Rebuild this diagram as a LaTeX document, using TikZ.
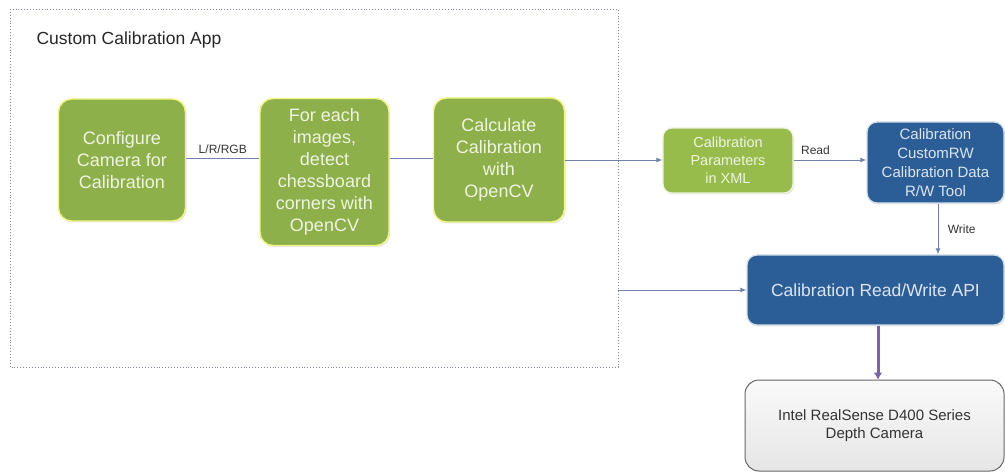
\documentclass[tikz,border=0pt]{standalone}
\usepackage{fontspec}
\setmainfont{Liberation Sans}
\usetikzlibrary{arrows.meta,shadows}
\definecolor{boxgreen}{HTML}{8DB04A}
\definecolor{lightgreen}{HTML}{97BC4C}
\definecolor{boxblue}{HTML}{2B5E97}
\definecolor{greentext}{HTML}{EFF4E2}
\definecolor{bluetext}{HTML}{DCE4F0}
\definecolor{conn}{HTML}{7382AC}
\definecolor{purplearrow}{HTML}{7A64A4}
\definecolor{framecol}{HTML}{7F8596}
\tikzset{
  base/.style={rounded corners=13pt, align=center, inner sep=2pt,
    drop shadow={opacity=0.22, shadow xshift=1pt, shadow yshift=-1.5pt}},
  greenbox/.style={base, fill=boxgreen, draw=white!80!boxgreen!60!yellow, line width=1.4pt,
    text=greentext, font=\fontsize{18}{22}\selectfont},
  paramsbox/.style={base, rounded corners=9pt, fill=lightgreen, draw=white!82!lightgreen, line width=1.2pt,
    text=greentext, font=\fontsize{14.5}{18}\selectfont},
  bluebox/.style={base, rounded corners=10pt, fill=boxblue, draw=white!80!boxblue, line width=1.3pt,
    text=bluetext},
  graybox/.style={rounded corners=14pt, align=center, top color=white!96!gray, bottom color=white!80!gray,
    draw=black!60, line width=1pt, text=black!80, font=\fontsize{15}{18}\selectfont},
  conline/.style={draw=conn, line width=0.9pt},
  conarrow/.style={conline, -{Latex[length=6pt,width=5pt]}},
  lbl/.style={font=\fontsize{12}{14}\selectfont, text=black!80},
  frame/.style={draw=framecol, dotted, line width=0.9pt}
}
\begin{document}
\begin{tikzpicture}[x=1pt,y=-1pt]
\useasboundingbox (0,0) rectangle (1005,473);
% frame
\draw[frame] (10,9) rectangle (618,367);
\coordinate (frameR) at (618,290);
\node[anchor=west, font=\fontsize{17.5}{20}\selectfont, text=black!85] (title) at (33,40) {Custom Calibration App};
% boxes
\node[greenbox, minimum width=127pt, minimum height=122pt] (b1) at (122,160) {Configure\\Camera for\\Calibration};
\node[greenbox, minimum width=129pt, minimum height=147pt] (b2) at (324.5,172) {For each\\images,\\detect\\chessboard\\corners with\\OpenCV};
\node[greenbox, minimum width=131pt, minimum height=124pt] (b3) at (499,160) {Calculate\\Calibration\\with\\OpenCV};
\node[paramsbox, minimum width=130pt, minimum height=65pt] (b4) at (728,160.5) {Calibration\\Parameters\\in XML};
\node[bluebox, minimum width=137pt, minimum height=81pt, font=\fontsize{15}{19}\selectfont] (b5) at (935.5,162.5) {Calibration\\CustomRW\\Calibration Data\\R/W Tool};
\node[bluebox, minimum width=257pt, minimum height=70pt, font=\fontsize{17.5}{20}\selectfont] (b6) at (875.5,290) {Calibration Read/Write API};
\node[graybox, minimum width=259pt, minimum height=91pt] (b7) at (874.5,425.5) {Intel RealSense D400 Series\\Depth Camera};
% connectors
\draw[conline] (b1.east |- 0,158) -- node[lbl, above=1pt] {L/R/RGB} (b2.west |- 0,158);
\draw[conline] (b2.east |- 0,158) -- (b3.west |- 0,158);
\draw[conarrow] (b3.east |- 0,160) -- (b4.west |- 0,160);
\draw[conarrow] (b4.east |- 0,160) -- node[lbl, above=2pt, pos=0.3] {Read} (b5.west |- 0,160);
\draw[conarrow] (b5.south -| 938,0) -- node[lbl, right=6pt] {Write} (b6.north -| 938,0);
\draw[conarrow] (frameR) -- (b6.west);
\draw[draw=purplearrow, line width=3pt, -{Latex[length=7pt,width=9pt]}] (b6.south -| 878,0) -- (b7.north -| 878,0);
\end{tikzpicture}
\end{document}
